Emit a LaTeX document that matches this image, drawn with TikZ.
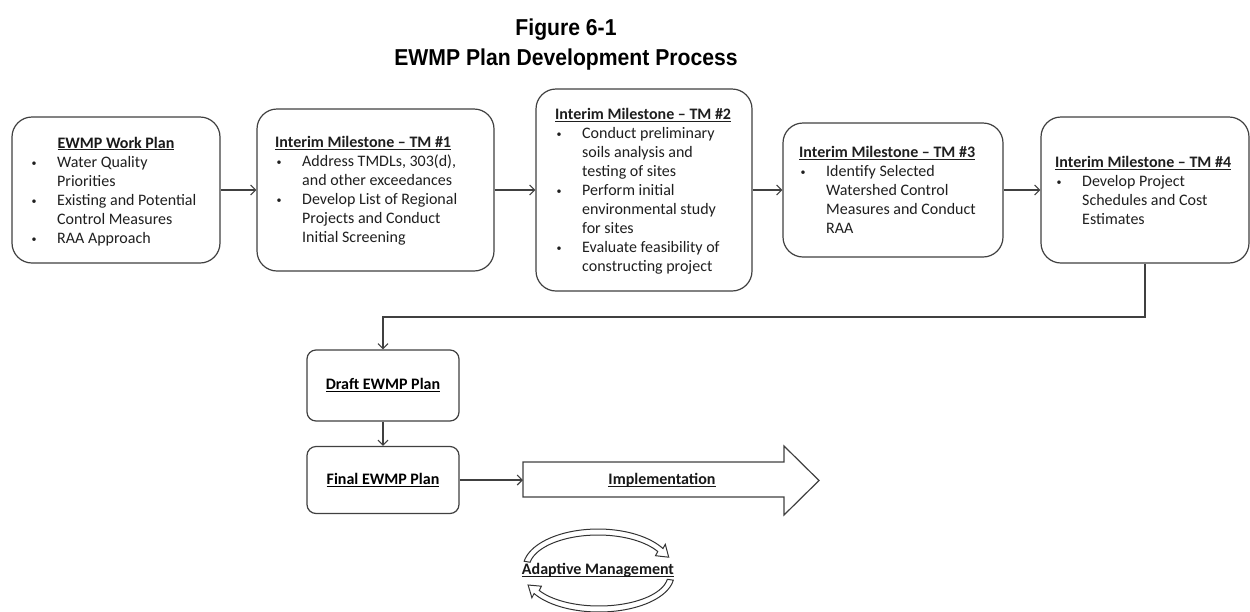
\documentclass[tikz,border=0pt]{standalone}
\usepackage{fontspec}
\setmainfont{Carlito}
\newfontfamily\headfont[FakeStretch=0.92]{Liberation Sans}
\usetikzlibrary{arrows.meta}

% bold text with a rule just under the baseline
\newsavebox\ulbox
\newcommand\ulb[1]{\sbox\ulbox{\bfseries #1}\rlap{\rule[-2.3pt]{\wd\ulbox}{0.9pt}}\usebox\ulbox}
% bulleted first line and continuation line of a list item
\newcommand\bi{\strut\makebox[27pt][l]{\hspace{1.5pt}\raisebox{1pt}{\fontsize{10}{10}\selectfont\textbullet}}}
\newcommand\ci{\strut\hspace*{27pt}}

\tikzset{
  box/.style={draw=black!75, line width=1.2pt, rounded corners=20pt, fill=white},
  smallbox/.style={draw=black!75, line width=1.2pt, rounded corners=9pt, fill=white,
    minimum width=152pt, font=\fontsize{16}{19}\selectfont},
  txt/.style={inner sep=0pt, align=left, anchor=north west,
    font=\fontsize{16}{19}\selectfont, text=black!88},
  ttl/.style={inner sep=0pt, font=\fontsize{16}{19}\selectfont, text=black!90},
  head/.style={inner sep=0pt, anchor=base, font=\headfont\bfseries\fontsize{23}{30}\selectfont},
  arr/.style={draw=black!75, line width=1.1pt, -{Straight Barb[length=5pt,width=10pt]}},
  loop/.style={draw=black!80, line width=1pt, fill=white, line join=miter},
}

\begin{document}
\begin{tikzpicture}[x=1pt, y=-1pt]
\useasboundingbox (0,0) rectangle (1250,611);

% heading
\node[head] (fig) at (566,35) {Figure 6-1};
\node[head] (ttlmain) at (566,65) {EWMP Plan Development Process};

% milestone boxes
\node[box, minimum width=208pt, minimum height=146pt] (b1) at (116,190) {};
\node[box, minimum width=237pt, minimum height=162pt] (b2) at (375.5,190) {};
\node[box, minimum width=216pt, minimum height=202pt] (b3) at (644,190) {};
\node[box, minimum width=220pt, minimum height=134pt] (b4) at (893,190) {};
\node[box, minimum width=208pt, minimum height=146pt] (b5) at (1145,190) {};

% box contents
\node[ttl, anchor=base] (t1) at (116,148) {\ulb{EWMP Work Plan}};
\node[txt] (l1) at (30,153.7) {%
  \bi Water Quality\\
  \ci Priorities\\
  \bi Existing and Potential\\
  \ci Control Measures\\
  \bi RAA Approach};

\node[txt] (l2) at (275,133.7) {%
  \strut\ulb{Interim Milestone – TM \#1}\\
  \bi Address TMDLs, 303(d),\\
  \ci and other exceedances\\
  \bi Develop List of Regional\\
  \ci Projects and Conduct\\
  \ci Initial Screening};

\node[txt] (l3) at (555,105.7) {%
  \strut\ulb{Interim Milestone – TM \#2}\\
  \bi Conduct preliminary\\
  \ci soils analysis and\\
  \ci testing of sites\\
  \bi Perform initial\\
  \ci environmental study\\
  \ci for sites\\
  \bi Evaluate feasibility of\\
  \ci constructing project};

\node[txt] (l4) at (799,143.7) {%
  \strut\ulb{Interim Milestone – TM \#3}\\
  \bi Identify Selected\\
  \ci Watershed Control\\
  \ci Measures and Conduct\\
  \ci RAA};

\node[txt] (l5) at (1055,153.7) {%
  \strut\ulb{Interim Milestone – TM \#4}\\
  \bi Develop Project\\
  \ci Schedules and Cost\\
  \ci Estimates};

% links along the top row
\draw[arr] (b1) -- (b2);
\draw[arr] (b2) -- (b3);
\draw[arr] (b3) -- (b4);
\draw[arr] (b4) -- (b5);

% plan boxes
\node[smallbox, minimum height=71pt] (draft) at (383,385.5) {\ulb{Draft EWMP Plan}};
\node[smallbox, minimum height=67pt] (final) at (383,480) {\ulb{Final EWMP Plan}};

\coordinate (bend) at (0,317);
\draw[arr] (b5.south) -- (b5.south |- bend) -| (draft.north);
\draw[arr] (draft) -- (final);

% implementation block arrow
\draw[draw=black!75, line width=1.2pt, fill=white, line join=miter]
  (523,462) -- (784,462) -- (784,446) -- (819,480.5) -- (784,515) -- (784,497) -- (523,497) -- cycle;
\coordinate (implin) at (523,480);
\node[ttl] (impl) at (662,480) {\ulb{Implementation}};
\draw[arr] (final) -- (implin);

% adaptive management cycle: two hollow curved arrows
\draw[loop]
  plot[domain=190:330, samples=40] ({598+75*cos(\x)},{568+39*sin(\x)})
  -- (665.3,544.3) -- (668.7,557.2) -- (655.5,555.7)
  -- plot[domain=330:190, samples=40] ({598+69*cos(\x)},{568+33*sin(\x)})
  -- cycle;
\draw[loop]
  plot[domain=8:150, samples=40] ({599+75*cos(\x)},{575+37*sin(\x)})
  -- (531.9,597.8) -- (528.1,585.0) -- (541.4,586.2)
  -- plot[domain=150:8, samples=40] ({599+69*cos(\x)},{575+31*sin(\x)})
  -- cycle;
\node[ttl] (adapt) at (598,570) {\ulb{Adaptive Management}};

\end{tikzpicture}
\end{document}
